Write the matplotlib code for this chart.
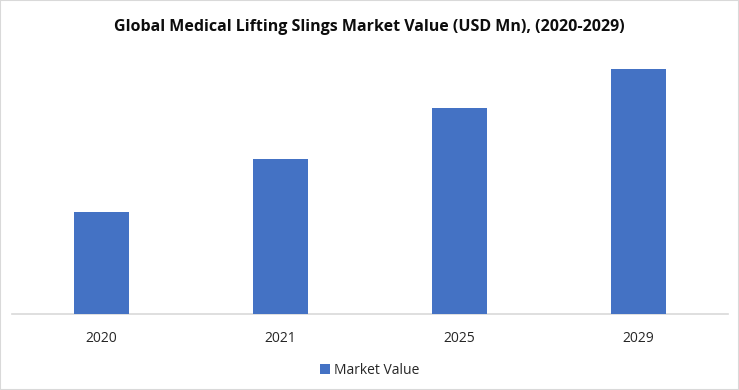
import numpy as np
import matplotlib.pyplot as plt

years = ['2020', '2021', '2025', '2029']
market_value = [102, 155, 206, 245]

plt.rcParams['font.family'] = ['Open Sans', 'DejaVu Sans']

fig = plt.figure(figsize=(7.39, 3.9), dpi=100)
# axes placed in figure fractions: left 12px, right 728px, bottom at y=314, top at y=40
ax = fig.add_axes([12 / 739, 1 - 314 / 390, (728 - 12) / 739, (314 - 40) / 390])

x = np.arange(len(years))
ax.bar(x, market_value, width=0.31, color='#4472C4', label='Market Value', zorder=3)

ax.set_xlim(-0.5, 3.5)
ax.set_ylim(0, 274)
ax.set_xticks(x)
ax.set_xticklabels(years, fontsize=10, color='#262626')
ax.tick_params(axis='x', length=0, pad=12)
ax.set_yticks([])
for s in ['top', 'left', 'right']:
    ax.spines[s].set_visible(False)
ax.spines['bottom'].set_color('#D9D9D9')
ax.spines['bottom'].set_linewidth(1.2)

fig.text(0.5, 1 - 27 / 390, 'Global Medical Lifting Slings Market Value (USD Mn), (2020-2029)',
         ha='center', va='center', fontsize=11.5, fontweight='bold', color='#0D0D0D')

fig.legend(loc='center', bbox_to_anchor=(0.5, 1 - 370 / 390), frameon=False,
           fontsize=10, handlelength=0.7, handleheight=0.7, handletextpad=0.3,
           labelcolor='#262626')

# light border around the chart
fig.patches.append(plt.Rectangle((0, 0), 1, 1, transform=fig.transFigure,
                                 fill=False, edgecolor='#D9D9D9', linewidth=1.5))

fig.savefig('out.png', dpi=100)
